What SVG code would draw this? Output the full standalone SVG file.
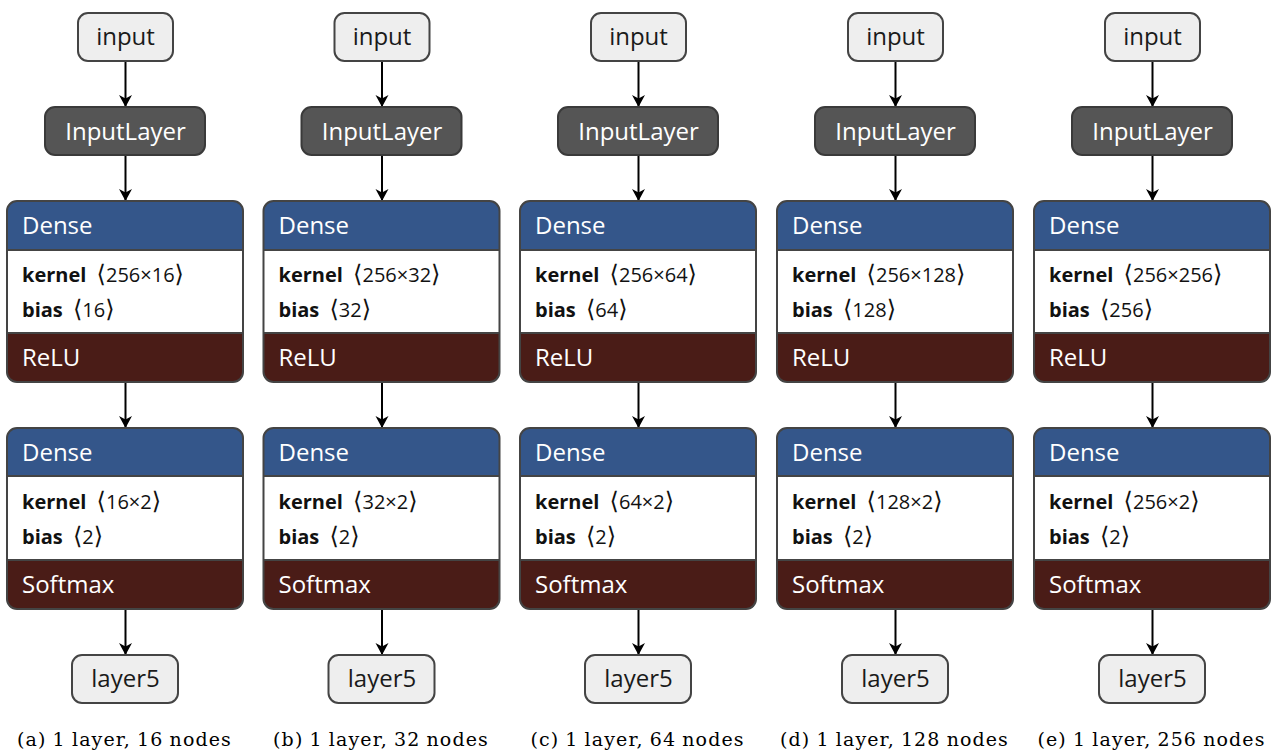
<svg xmlns="http://www.w3.org/2000/svg" width="1279" height="756" viewBox="0 0 1279 756">
  <style>
    .io { fill: #eeeeee; stroke: #444444; stroke-width: 2; }
    .inl { fill: #555555; stroke: #3a3a3a; stroke-width: 2; }
    .hdr { fill: #34568a; }
    .body { fill: #ffffff; }
    .act { fill: #4a1c17; }
    .frame { fill: none; stroke: #444444; stroke-width: 2; }
    .sep { stroke: #444444; stroke-width: 2; }
    .edge { stroke: #000000; stroke-width: 2; fill: none; marker-end: url(#arrow); }
    .lbl { font-family: "Open Sans", "DejaVu Sans", sans-serif; font-size: 24px; }
    .dark { fill: #1a1a1a; }
    .light { fill: #ffffff; }
    .prm { font-family: "Open Sans", "DejaVu Sans", sans-serif; font-size: 20px; fill: #111111; }
    .prm .k { font-weight: bold; }
    .br { font-family: "DejaVu Sans", sans-serif; font-size: 24px; }
    .cap { font-family: "DejaVu Serif", "Liberation Serif", serif; font-size: 19px; letter-spacing: 1.1px; word-spacing: -1px; fill: #000000; text-anchor: middle; }
  </style>
  <defs>
    <marker id="arrow" markerUnits="userSpaceOnUse" markerWidth="14" markerHeight="14" viewBox="0 -7 13 14" refX="12" refY="0" orient="auto">
      <path d="M0,-6.5 L12,0 L0,6.5 L3.5,0 Z" fill="#000000"/>
    </marker>
  </defs>
  <rect width="1279" height="756" fill="#ffffff"/>

  <!-- connectors: same four arrows in every column -->
  <g id="connectors">
    <g transform="translate(0,0)">
      <line class="edge" x1="125.5" y1="61" x2="125.5" y2="107"/>
      <line class="edge" x1="125.5" y1="155" x2="125.5" y2="201"/>
      <line class="edge" x1="125.5" y1="382" x2="125.5" y2="428"/>
      <line class="edge" x1="125.5" y1="609" x2="125.5" y2="655"/>
    </g>
    <g transform="translate(256.5,0)">
      <line class="edge" x1="125.5" y1="61" x2="125.5" y2="107"/>
      <line class="edge" x1="125.5" y1="155" x2="125.5" y2="201"/>
      <line class="edge" x1="125.5" y1="382" x2="125.5" y2="428"/>
      <line class="edge" x1="125.5" y1="609" x2="125.5" y2="655"/>
    </g>
    <g transform="translate(513,0)">
      <line class="edge" x1="125.5" y1="61" x2="125.5" y2="107"/>
      <line class="edge" x1="125.5" y1="155" x2="125.5" y2="201"/>
      <line class="edge" x1="125.5" y1="382" x2="125.5" y2="428"/>
      <line class="edge" x1="125.5" y1="609" x2="125.5" y2="655"/>
    </g>
    <g transform="translate(770,0)">
      <line class="edge" x1="125.5" y1="61" x2="125.5" y2="107"/>
      <line class="edge" x1="125.5" y1="155" x2="125.5" y2="201"/>
      <line class="edge" x1="125.5" y1="382" x2="125.5" y2="428"/>
      <line class="edge" x1="125.5" y1="609" x2="125.5" y2="655"/>
    </g>
    <g transform="translate(1027,0)">
      <line class="edge" x1="125.5" y1="61" x2="125.5" y2="107"/>
      <line class="edge" x1="125.5" y1="155" x2="125.5" y2="201"/>
      <line class="edge" x1="125.5" y1="382" x2="125.5" y2="428"/>
      <line class="edge" x1="125.5" y1="609" x2="125.5" y2="655"/>
    </g>
  </g>

  <!-- column (a) -->
  <g transform="translate(0,0)">
    <g id="a-input">
      <rect class="io" x="78" y="13" width="95" height="48" rx="10"/>
      <text class="lbl dark" x="125.5" y="45" text-anchor="middle">input</text>
    </g>
    <g id="a-inputlayer">
      <rect class="inl" x="45" y="107" width="160" height="48" rx="10"/>
      <text class="lbl light" x="125.5" y="139.5" text-anchor="middle">InputLayer</text>
    </g>
    <g id="a-dense1">
      <path class="hdr" d="M7,250 V211 Q7,201 17,201 H233 Q243,201 243,211 V250 Z"/>
      <rect class="body" x="7" y="250" width="236" height="83"/>
      <path class="act" d="M7,333 H243 V372 Q243,382 233,382 H17 Q7,382 7,372 Z"/>
      <line class="sep" x1="7" y1="250" x2="243" y2="250"/>
      <line class="sep" x1="7" y1="333" x2="243" y2="333"/>
      <rect class="frame" x="7" y="201" width="236" height="181" rx="10"/>
      <text class="lbl light" x="22" y="234">Dense</text>
      <text class="prm" x="22" y="282"><tspan class="k">kernel</tspan> <tspan class="br" dx="5">⟨</tspan>256×16<tspan class="br">⟩</tspan></text>
      <text class="prm" x="22" y="317"><tspan class="k">bias</tspan> <tspan class="br" dx="5">⟨</tspan>16<tspan class="br">⟩</tspan></text>
      <text class="lbl light" x="22" y="366">ReLU</text>
    </g>
    <g id="a-dense2">
      <path class="hdr" d="M7,476 V438 Q7,428 17,428 H233 Q243,428 243,438 V476 Z"/>
      <rect class="body" x="7" y="476" width="236" height="84"/>
      <path class="act" d="M7,560 H243 V599 Q243,609 233,609 H17 Q7,609 7,599 Z"/>
      <line class="sep" x1="7" y1="476" x2="243" y2="476"/>
      <line class="sep" x1="7" y1="560" x2="243" y2="560"/>
      <rect class="frame" x="7" y="428" width="236" height="181" rx="10"/>
      <text class="lbl light" x="22" y="461">Dense</text>
      <text class="prm" x="22" y="509"><tspan class="k">kernel</tspan> <tspan class="br" dx="5">⟨</tspan>16×2<tspan class="br">⟩</tspan></text>
      <text class="prm" x="22" y="544"><tspan class="k">bias</tspan> <tspan class="br" dx="5">⟨</tspan>2<tspan class="br">⟩</tspan></text>
      <text class="lbl light" x="22" y="593">Softmax</text>
    </g>
    <g id="a-layer5">
      <rect class="io" x="72" y="655" width="106" height="48" rx="10"/>
      <text class="lbl dark" x="125.5" y="687" text-anchor="middle">layer5</text>
    </g>
    <text class="cap" x="124.5" y="746">(a) 1 layer, 16 nodes</text>
  </g>

  <!-- column (b) -->
  <g transform="translate(256.5,0)">
    <g id="b-input">
      <rect class="io" x="78" y="13" width="95" height="48" rx="10"/>
      <text class="lbl dark" x="125.5" y="45" text-anchor="middle">input</text>
    </g>
    <g id="b-inputlayer">
      <rect class="inl" x="45" y="107" width="160" height="48" rx="10"/>
      <text class="lbl light" x="125.5" y="139.5" text-anchor="middle">InputLayer</text>
    </g>
    <g id="b-dense1">
      <path class="hdr" d="M7,250 V211 Q7,201 17,201 H233 Q243,201 243,211 V250 Z"/>
      <rect class="body" x="7" y="250" width="236" height="83"/>
      <path class="act" d="M7,333 H243 V372 Q243,382 233,382 H17 Q7,382 7,372 Z"/>
      <line class="sep" x1="7" y1="250" x2="243" y2="250"/>
      <line class="sep" x1="7" y1="333" x2="243" y2="333"/>
      <rect class="frame" x="7" y="201" width="236" height="181" rx="10"/>
      <text class="lbl light" x="22" y="234">Dense</text>
      <text class="prm" x="22" y="282"><tspan class="k">kernel</tspan> <tspan class="br" dx="5">⟨</tspan>256×32<tspan class="br">⟩</tspan></text>
      <text class="prm" x="22" y="317"><tspan class="k">bias</tspan> <tspan class="br" dx="5">⟨</tspan>32<tspan class="br">⟩</tspan></text>
      <text class="lbl light" x="22" y="366">ReLU</text>
    </g>
    <g id="b-dense2">
      <path class="hdr" d="M7,476 V438 Q7,428 17,428 H233 Q243,428 243,438 V476 Z"/>
      <rect class="body" x="7" y="476" width="236" height="84"/>
      <path class="act" d="M7,560 H243 V599 Q243,609 233,609 H17 Q7,609 7,599 Z"/>
      <line class="sep" x1="7" y1="476" x2="243" y2="476"/>
      <line class="sep" x1="7" y1="560" x2="243" y2="560"/>
      <rect class="frame" x="7" y="428" width="236" height="181" rx="10"/>
      <text class="lbl light" x="22" y="461">Dense</text>
      <text class="prm" x="22" y="509"><tspan class="k">kernel</tspan> <tspan class="br" dx="5">⟨</tspan>32×2<tspan class="br">⟩</tspan></text>
      <text class="prm" x="22" y="544"><tspan class="k">bias</tspan> <tspan class="br" dx="5">⟨</tspan>2<tspan class="br">⟩</tspan></text>
      <text class="lbl light" x="22" y="593">Softmax</text>
    </g>
    <g id="b-layer5">
      <rect class="io" x="72" y="655" width="106" height="48" rx="10"/>
      <text class="lbl dark" x="125.5" y="687" text-anchor="middle">layer5</text>
    </g>
    <text class="cap" x="124.5" y="746">(b) 1 layer, 32 nodes</text>
  </g>

  <!-- column (c) -->
  <g transform="translate(513,0)">
    <g id="c-input">
      <rect class="io" x="78" y="13" width="95" height="48" rx="10"/>
      <text class="lbl dark" x="125.5" y="45" text-anchor="middle">input</text>
    </g>
    <g id="c-inputlayer">
      <rect class="inl" x="45" y="107" width="160" height="48" rx="10"/>
      <text class="lbl light" x="125.5" y="139.5" text-anchor="middle">InputLayer</text>
    </g>
    <g id="c-dense1">
      <path class="hdr" d="M7,250 V211 Q7,201 17,201 H233 Q243,201 243,211 V250 Z"/>
      <rect class="body" x="7" y="250" width="236" height="83"/>
      <path class="act" d="M7,333 H243 V372 Q243,382 233,382 H17 Q7,382 7,372 Z"/>
      <line class="sep" x1="7" y1="250" x2="243" y2="250"/>
      <line class="sep" x1="7" y1="333" x2="243" y2="333"/>
      <rect class="frame" x="7" y="201" width="236" height="181" rx="10"/>
      <text class="lbl light" x="22" y="234">Dense</text>
      <text class="prm" x="22" y="282"><tspan class="k">kernel</tspan> <tspan class="br" dx="5">⟨</tspan>256×64<tspan class="br">⟩</tspan></text>
      <text class="prm" x="22" y="317"><tspan class="k">bias</tspan> <tspan class="br" dx="5">⟨</tspan>64<tspan class="br">⟩</tspan></text>
      <text class="lbl light" x="22" y="366">ReLU</text>
    </g>
    <g id="c-dense2">
      <path class="hdr" d="M7,476 V438 Q7,428 17,428 H233 Q243,428 243,438 V476 Z"/>
      <rect class="body" x="7" y="476" width="236" height="84"/>
      <path class="act" d="M7,560 H243 V599 Q243,609 233,609 H17 Q7,609 7,599 Z"/>
      <line class="sep" x1="7" y1="476" x2="243" y2="476"/>
      <line class="sep" x1="7" y1="560" x2="243" y2="560"/>
      <rect class="frame" x="7" y="428" width="236" height="181" rx="10"/>
      <text class="lbl light" x="22" y="461">Dense</text>
      <text class="prm" x="22" y="509"><tspan class="k">kernel</tspan> <tspan class="br" dx="5">⟨</tspan>64×2<tspan class="br">⟩</tspan></text>
      <text class="prm" x="22" y="544"><tspan class="k">bias</tspan> <tspan class="br" dx="5">⟨</tspan>2<tspan class="br">⟩</tspan></text>
      <text class="lbl light" x="22" y="593">Softmax</text>
    </g>
    <g id="c-layer5">
      <rect class="io" x="72" y="655" width="106" height="48" rx="10"/>
      <text class="lbl dark" x="125.5" y="687" text-anchor="middle">layer5</text>
    </g>
    <text class="cap" x="124.5" y="746">(c) 1 layer, 64 nodes</text>
  </g>

  <!-- column (d) -->
  <g transform="translate(770,0)">
    <g id="d-input">
      <rect class="io" x="78" y="13" width="95" height="48" rx="10"/>
      <text class="lbl dark" x="125.5" y="45" text-anchor="middle">input</text>
    </g>
    <g id="d-inputlayer">
      <rect class="inl" x="45" y="107" width="160" height="48" rx="10"/>
      <text class="lbl light" x="125.5" y="139.5" text-anchor="middle">InputLayer</text>
    </g>
    <g id="d-dense1">
      <path class="hdr" d="M7,250 V211 Q7,201 17,201 H233 Q243,201 243,211 V250 Z"/>
      <rect class="body" x="7" y="250" width="236" height="83"/>
      <path class="act" d="M7,333 H243 V372 Q243,382 233,382 H17 Q7,382 7,372 Z"/>
      <line class="sep" x1="7" y1="250" x2="243" y2="250"/>
      <line class="sep" x1="7" y1="333" x2="243" y2="333"/>
      <rect class="frame" x="7" y="201" width="236" height="181" rx="10"/>
      <text class="lbl light" x="22" y="234">Dense</text>
      <text class="prm" x="22" y="282"><tspan class="k">kernel</tspan> <tspan class="br" dx="5">⟨</tspan>256×128<tspan class="br">⟩</tspan></text>
      <text class="prm" x="22" y="317"><tspan class="k">bias</tspan> <tspan class="br" dx="5">⟨</tspan>128<tspan class="br">⟩</tspan></text>
      <text class="lbl light" x="22" y="366">ReLU</text>
    </g>
    <g id="d-dense2">
      <path class="hdr" d="M7,476 V438 Q7,428 17,428 H233 Q243,428 243,438 V476 Z"/>
      <rect class="body" x="7" y="476" width="236" height="84"/>
      <path class="act" d="M7,560 H243 V599 Q243,609 233,609 H17 Q7,609 7,599 Z"/>
      <line class="sep" x1="7" y1="476" x2="243" y2="476"/>
      <line class="sep" x1="7" y1="560" x2="243" y2="560"/>
      <rect class="frame" x="7" y="428" width="236" height="181" rx="10"/>
      <text class="lbl light" x="22" y="461">Dense</text>
      <text class="prm" x="22" y="509"><tspan class="k">kernel</tspan> <tspan class="br" dx="5">⟨</tspan>128×2<tspan class="br">⟩</tspan></text>
      <text class="prm" x="22" y="544"><tspan class="k">bias</tspan> <tspan class="br" dx="5">⟨</tspan>2<tspan class="br">⟩</tspan></text>
      <text class="lbl light" x="22" y="593">Softmax</text>
    </g>
    <g id="d-layer5">
      <rect class="io" x="72" y="655" width="106" height="48" rx="10"/>
      <text class="lbl dark" x="125.5" y="687" text-anchor="middle">layer5</text>
    </g>
    <text class="cap" x="124.5" y="746">(d) 1 layer, 128 nodes</text>
  </g>

  <!-- column (e) -->
  <g transform="translate(1027,0)">
    <g id="e-input">
      <rect class="io" x="78" y="13" width="95" height="48" rx="10"/>
      <text class="lbl dark" x="125.5" y="45" text-anchor="middle">input</text>
    </g>
    <g id="e-inputlayer">
      <rect class="inl" x="45" y="107" width="160" height="48" rx="10"/>
      <text class="lbl light" x="125.5" y="139.5" text-anchor="middle">InputLayer</text>
    </g>
    <g id="e-dense1">
      <path class="hdr" d="M7,250 V211 Q7,201 17,201 H233 Q243,201 243,211 V250 Z"/>
      <rect class="body" x="7" y="250" width="236" height="83"/>
      <path class="act" d="M7,333 H243 V372 Q243,382 233,382 H17 Q7,382 7,372 Z"/>
      <line class="sep" x1="7" y1="250" x2="243" y2="250"/>
      <line class="sep" x1="7" y1="333" x2="243" y2="333"/>
      <rect class="frame" x="7" y="201" width="236" height="181" rx="10"/>
      <text class="lbl light" x="22" y="234">Dense</text>
      <text class="prm" x="22" y="282"><tspan class="k">kernel</tspan> <tspan class="br" dx="5">⟨</tspan>256×256<tspan class="br">⟩</tspan></text>
      <text class="prm" x="22" y="317"><tspan class="k">bias</tspan> <tspan class="br" dx="5">⟨</tspan>256<tspan class="br">⟩</tspan></text>
      <text class="lbl light" x="22" y="366">ReLU</text>
    </g>
    <g id="e-dense2">
      <path class="hdr" d="M7,476 V438 Q7,428 17,428 H233 Q243,428 243,438 V476 Z"/>
      <rect class="body" x="7" y="476" width="236" height="84"/>
      <path class="act" d="M7,560 H243 V599 Q243,609 233,609 H17 Q7,609 7,599 Z"/>
      <line class="sep" x1="7" y1="476" x2="243" y2="476"/>
      <line class="sep" x1="7" y1="560" x2="243" y2="560"/>
      <rect class="frame" x="7" y="428" width="236" height="181" rx="10"/>
      <text class="lbl light" x="22" y="461">Dense</text>
      <text class="prm" x="22" y="509"><tspan class="k">kernel</tspan> <tspan class="br" dx="5">⟨</tspan>256×2<tspan class="br">⟩</tspan></text>
      <text class="prm" x="22" y="544"><tspan class="k">bias</tspan> <tspan class="br" dx="5">⟨</tspan>2<tspan class="br">⟩</tspan></text>
      <text class="lbl light" x="22" y="593">Softmax</text>
    </g>
    <g id="e-layer5">
      <rect class="io" x="72" y="655" width="106" height="48" rx="10"/>
      <text class="lbl dark" x="125.5" y="687" text-anchor="middle">layer5</text>
    </g>
    <text class="cap" x="124.5" y="746">(e) 1 layer, 256 nodes</text>
  </g>
</svg>
